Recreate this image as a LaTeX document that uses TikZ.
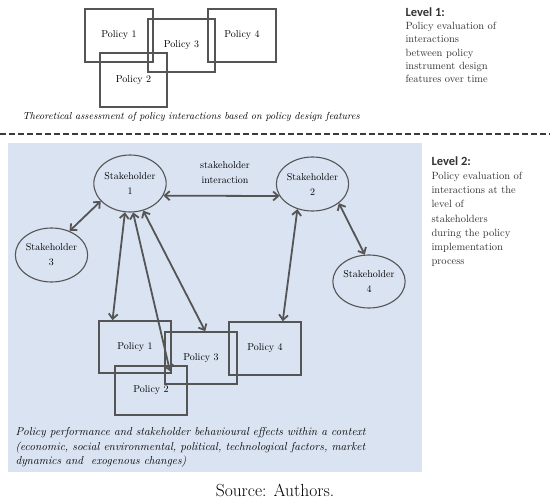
\documentclass[tikz,border=0pt]{standalone}
\usepackage{fontspec}
\newfontfamily\headfont{Carlito}
\usetikzlibrary{arrows.meta,shapes.geometric}
\definecolor{linegray}{RGB}{85,85,85}
\definecolor{panelblue}{RGB}{218,227,242}
\definecolor{textgray}{RGB}{50,50,50}
\newcommand{\lbl}{\fontsize{10}{15}\selectfont\addfontfeatures{LetterSpace=6}}

\begin{document}
\begin{tikzpicture}[x=1pt,y=-1pt,
  policy/.style={rectangle,draw=linegray,line width=1.6pt,inner sep=0pt,font=\lbl},
  stake/.style={ellipse,draw=linegray,line width=1.1pt,inner sep=0pt,align=center,font=\lbl},
  link/.style={{Straight Barb[length=5pt,width=9pt]}-{Straight Barb[length=5pt,width=9pt]},draw=linegray,line width=1.8pt},
  levelhead/.style={anchor=north west,align=left,text=textgray}]
\useasboundingbox (0,0) rectangle (550,501);

% level 1
\node [policy,minimum width=68pt,minimum height=53pt] (tp1) at (119,35.5) {Policy 1};
\node [policy,minimum width=67pt,minimum height=53pt] (tp3) at (181.5,45.5) {Policy 3};
\node [policy,minimum width=68pt,minimum height=53pt] (tp4) at (242,35.5) {Policy 4};
\node [policy,minimum width=67pt,minimum height=54pt] (tp2) at (133.5,80) {Policy 2};
\node [anchor=west,font=\fontsize{10.2}{12}\selectfont\itshape] (tcap) at (19,117)
  {Theoretical assessment of policy interactions based on policy design features};
\node [levelhead,font=\fontsize{10.5}{13.3}\selectfont\addfontfeatures{LetterSpace=10}] (lv1) at (402,4)
  {{\headfont\bfseries\fontsize{12.5}{14}\selectfont Level 1:}\\
  Policy evaluation of\\interactions\\between policy\\instrument design\\features over time};

\draw [linegray!70!black,line width=1.6pt,dash pattern=on 6pt off 3pt] (0,134) -- (550,134);

% level 2
\fill [panelblue] (8,143) rectangle (422,472);
\node [stake,minimum width=72pt,minimum height=57pt] (s1) at (130,183.5) {Stakeholder\\1};
\node [stake,minimum width=69pt,minimum height=54pt] (s2) at (312.5,184) {Stakeholder\\2};
\node [stake,minimum width=67pt,minimum height=54pt] (s3) at (51.5,255) {Stakeholder\\3};
\node [stake,minimum width=68pt,minimum height=53pt] (s4) at (369,281.5) {Stakeholder\\4};
\node [align=center,font=\lbl] (inter) at (225,173) {stakeholder\\interaction};

\node [policy,minimum width=72pt,minimum height=52pt] (lp1) at (135,347) {Policy 1};
\node [policy,minimum width=72pt,minimum height=52pt] (lp3) at (201,358) {Policy 3};
\node [policy,minimum width=72pt,minimum height=53pt] (lp4) at (265,348.5) {Policy 4};
\node [policy,minimum width=72pt,minimum height=49pt] (lp2) at (151,390.5) {Policy 2};

\draw [link] (s1.-20) -- (s2.200);
\draw [link] (s1.211) -- (s3.53);
\draw [link] (s2.-36) -- (s4.99);
\draw [link] (s1.-100) -- (lp1.130);
\draw [link] (s1.-84) -- ([shift={(19,6)}]lp2.north);
\draw [link] (s1.-64) -- (lp3.81);
\draw [link] (s2.-121) -- (lp4.57);

\node [anchor=north west,align=left,font=\fontsize{11.5}{14.5}\selectfont\itshape] (bcap) at (12,424)
  {Policy performance and stakeholder behavioural effects within a context\\
   (economic, social environmental, political, technological factors, market\\
   dynamics and\ \ exogenous changes)};
\node [levelhead,font=\fontsize{10.5}{14.2}\selectfont\addfontfeatures{LetterSpace=10}] (lv2) at (428,153)
  {{\headfont\bfseries\fontsize{12.5}{14}\selectfont Level 2:}\\
  Policy evaluation of\\interactions at the\\level of\\stakeholders\\during the policy\\implementation\\process};

\node [font=\fontsize{17.5}{20}\selectfont] (src) at (275,490) {Source: Authors.};
\end{tikzpicture}
\end{document}
